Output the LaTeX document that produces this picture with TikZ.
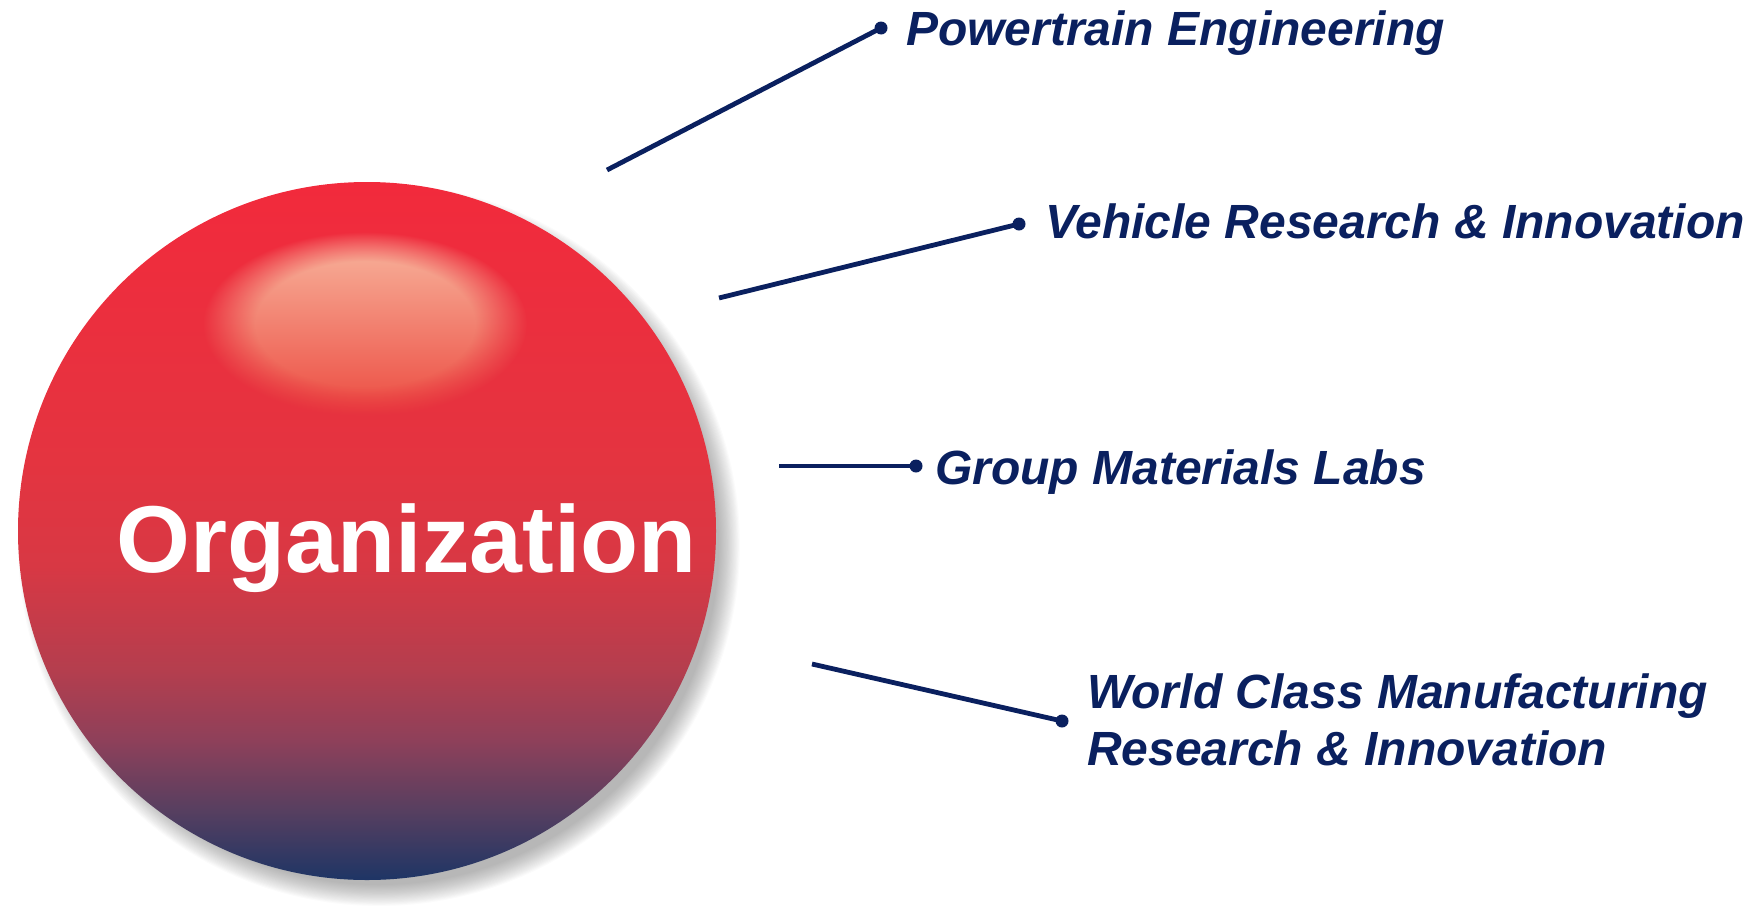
\documentclass[tikz,border=0pt]{standalone}
\usepackage{fontspec}
\setmainfont{Liberation Sans}
\usetikzlibrary{fadings}
\definecolor{navy}{HTML}{0A205F}
\definecolor{sb0}{HTML}{1E3565}
\definecolor{sb1}{HTML}{573F60}
\definecolor{sb2}{HTML}{8E405A}
\definecolor{sb3}{HTML}{B43E4E}
\definecolor{sb4}{HTML}{D83844}
\definecolor{sb5}{HTML}{E43440}
\definecolor{sb6}{HTML}{F22A3C}
\definecolor{hlTop}{HTML}{F8B8A0}
\definecolor{hlMid}{HTML}{F08468}
\definecolor{hlBot}{HTML}{EC4A40}
\pgfdeclareverticalshading{spherefill}{100bp}{color(0bp)=(sb0); color(25bp)=(sb0); color(30bp)=(sb1); color(35bp)=(sb2); color(40bp)=(sb3); color(47.5bp)=(sb4); color(55bp)=(sb5); color(75bp)=(sb6); color(100bp)=(sb6)}
\pgfdeclareradialshading{softedgesh}{\pgfpointorigin}{color(0bp)=(pgftransparent!0); color(17bp)=(pgftransparent!0); color(25bp)=(pgftransparent!100); color(50bp)=(pgftransparent!100)}
\pgfdeclarefading{softedge}{\pgfuseshading{softedgesh}}
\tikzset{
  link/.style={draw=navy, line width=4.8pt},
  enddot/.style={fill=navy},
  unitlabel/.style={text=navy, anchor=base west, inner sep=0pt, align=left,
    font=\fontsize{48}{57}\selectfont\bfseries\itshape},
  orglabel/.style={text=white, anchor=base west, inner sep=0pt,
    font=\fontsize{95}{110}\selectfont\bfseries},
}
\begin{document}
\begin{tikzpicture}[x=1pt,y=-1pt]
\useasboundingbox (0,0) rectangle (1758,916);
% shadow
\foreach \k in {0,...,19}
  \fill[black!75, opacity=0.025] (379,545) circle ({340+\k*1.1});
% sphere
\node[circle, minimum size=698pt, inner sep=0pt, shading=spherefill] (org) at (367,531) {};
% highlight
\shade[top color=hlTop, middle color=hlMid, bottom color=hlBot, path fading=softedge, fit fading=true]
  (365,324) ellipse (162 and 92);
\node[orglabel] (orgtxt) at (116,572) {Organization};
% connectors
\coordinate (s1) at (607,170); \coordinate (e1) at (881,28);
\coordinate (s2) at (719,298); \coordinate (e2) at (1019,224);
\coordinate (s3) at (779,466); \coordinate (e3) at (916,466);
\coordinate (s4) at (812,664); \coordinate (e4) at (1062,721);
\draw[link] (s1) -- (e1);
\draw[link] (s2) -- (e2);
\draw[link] (s3) -- (e3);
\draw[link] (s4) -- (e4);
\foreach \p in {e1,e2,e3,e4} \fill[enddot] (\p) circle (6.5);
% labels
\node[unitlabel] (l1) at (906,45) {Powertrain Engineering};
\node[unitlabel] (l2) at (1045,238) {Vehicle Research \& Innovation};
\node[unitlabel] (l3) at (935,484) {Group Materials Labs};
\node[unitlabel] (l4) at (1087,765) {World Class Manufacturing\\Research \& Innovation};
\end{tikzpicture}
\end{document}
